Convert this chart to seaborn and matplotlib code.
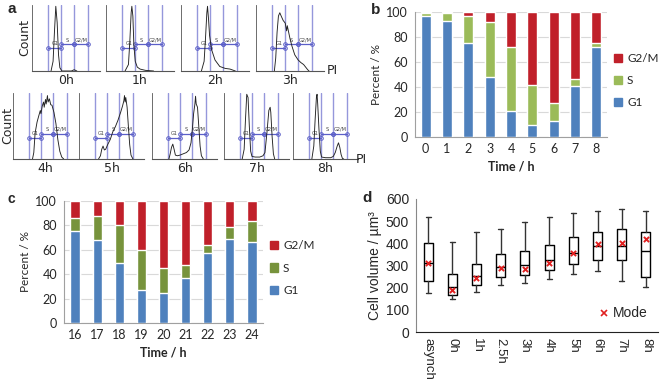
import numpy as np
import pandas as pd
import matplotlib
matplotlib.use("Agg")
import matplotlib.pyplot as plt
import seaborn as sns
from matplotlib.patches import Patch
from matplotlib.lines import Line2D

sns.set_style("white")
plt.rcParams['font.family'] = ['DejaVu Sans']

# ---- panel a: PI histograms (channel 0-100, normalised counts) ----
h_labels = ['0h', '1h', '2h', '3h', '4h', '5h', '6h', '7h', '8h']
h0_x = [28, 31, 33, 35, 37, 39, 41, 44, 58, 62, 66]
h0_y = [0, 0.15, 0.6, 1.0, 0.75, 0.25, 0.05, 0, 0, 0.02, 0]
h1_x = [28, 33, 35, 37, 38, 39.5, 41, 43, 46, 50, 58, 70]
h1_y = [0, 0.1, 0.45, 0.9, 1.0, 0.85, 0.4, 0.15, 0.06, 0.03, 0.01, 0]
h2_x = [30, 34, 36, 38, 39, 40.5, 42, 45, 50, 57, 65, 72, 80]
h2_y = [0, 0.15, 0.5, 0.9, 1.0, 0.8, 0.55, 0.33, 0.17, 0.07, 0.04, 0.03, 0]
h3_x = [27, 29, 31, 33, 35, 37, 40, 43, 45, 46, 48, 50, 53, 57, 62, 66, 70, 73, 76, 78]
h3_y = [0, 0.2, 0.6, 0.85, 0.9, 0.85, 0.78, 0.74, 0.62, 0.7, 0.6, 0.5, 0.38, 0.25, 0.17, 0.13, 0.1, 0.06, 0.02, 0]
h4_x = [30, 32, 34, 37, 40, 42, 43, 45, 47, 48, 50, 51, 53, 54, 56, 58, 60, 63, 66, 69, 72, 75, 78]
h4_y = [0, 0.1, 0.4, 0.57, 0.68, 0.75, 0.7, 0.82, 0.88, 0.8, 0.92, 0.85, 0.98, 0.88, 0.93, 0.84, 0.83, 0.72, 0.55, 0.3, 0.12, 0.03, 0]
h5_x = [30, 33, 35, 37, 39, 41, 44, 48, 52, 56, 60, 64, 67, 69, 70, 71, 72, 74, 76, 78, 80, 83]
h5_y = [0, 0.05, 0.15, 0.2, 0.14, 0.15, 0.22, 0.3, 0.42, 0.5, 0.6, 0.72, 0.82, 0.9, 0.98, 0.88, 0.95, 0.8, 0.5, 0.22, 0.06, 0]
h6_x = [26, 28, 30, 32, 34, 36, 39, 43, 48, 53, 57, 60, 62, 64, 66, 67, 68, 70, 72, 74, 76, 79]
h6_y = [0, 0.08, 0.18, 0.23, 0.15, 0.06, 0.05, 0.06, 0.08, 0.1, 0.14, 0.25, 0.45, 0.7, 0.85, 0.97, 0.85, 0.8, 0.5, 0.2, 0.05, 0]
h7_x = [28, 31, 33, 35, 37, 39, 41, 43, 48, 55, 60, 63, 66, 69, 71, 72, 74, 76, 78]
h7_y = [0, 0.15, 0.6, 1.0, 0.95, 0.5, 0.12, 0.04, 0.03, 0.03, 0.05, 0.1, 0.4, 0.75, 0.8, 0.72, 0.35, 0.08, 0]
h8_x = [29, 32, 34, 36, 37, 38, 40, 42, 44, 50, 58, 62, 65, 68, 70, 72, 74, 76, 78]
h8_y = [0, 0.2, 0.6, 0.95, 1.0, 0.85, 0.45, 0.12, 0.03, 0.02, 0.02, 0.04, 0.1, 0.2, 0.25, 0.18, 0.07, 0.01, 0]
hist_x = [h0_x, h1_x, h2_x, h3_x, h4_x, h5_x, h6_x, h7_x, h8_x]
hist_y = [h0_y, h1_y, h2_y, h3_y, h4_y, h5_y, h6_y, h7_y, h8_y]
gate_edges = [24, 43, 62, 83]
gate_names = ['G1', 'S', 'G2/M']

# ---- panel b / c: phase percentages ----
b_times = ['0', '1', '2', '3', '4', '5', '6', '7', '8']
b_g1 = [97, 93, 75, 48, 20.5, 10, 13, 41, 72]
b_s = [2, 6, 21.5, 44, 51.5, 32, 14, 5.5, 3]
b_g2m = [1, 1, 3.5, 8, 28, 58, 73, 53.5, 25]

c_times = ['16', '17', '18', '19', '20', '21', '22', '23', '24']
c_g1 = [75.5, 68, 49, 27, 24.5, 36.5, 57.5, 69, 66]
c_s = [10.5, 20, 31.5, 32.5, 20.5, 11, 6.5, 10, 18]
c_g2m = [14, 12, 19.5, 40.5, 55, 52.5, 36, 21, 16]

# ---- panel d: cell volume box stats ----
d_groups = ['asynch', '0h', '1h', '2.5h', '3h', '4h', '5h', '6h', '7h', '8h']
d_low = [177, 147, 181, 211, 222, 237, 260, 276, 231, 204]
d_q1 = [231, 169, 211, 249, 255, 279, 305, 323, 323, 249]
d_med = [313, 201, 251, 295, 301, 323, 355, 390, 390, 364]
d_q3 = [400, 260, 305, 352, 367, 391, 427, 449, 465, 449]
d_high = [518, 408, 449, 465, 494, 518, 539, 548, 557, 548]
d_mode = [310, 189, 242, 287, 284, 310, 355, 396, 403, 420]

BLUE = '#4F81BD'
RED = '#C0202A'
GREEN_B = '#9BBB59'
GREEN_C = '#77933C'
GATE = '#8A8CD8'

W, H = 660, 379
fig = plt.figure(figsize=(6.6, 3.79), dpi=100)


def px_axes(x0, y0, x1, y1):
    return fig.add_axes([x0 / W, 1 - y1 / H, (x1 - x0) / W, (y1 - y0) / H])


# ---------------- panel a ----------------
top_left = [32, 106, 181, 256]
bot_left = [13, 79, 152, 224, 293]
boxes = [(x, 5, x + 68, 71) for x in top_left] + [(x, 93, x + 65, 159) for x in bot_left]
for i, (x0, y0, x1, y1) in enumerate(boxes):
    ax = px_axes(x0, y0, x1, y1)
    ax.set_xlim(0, 100)
    ax.set_ylim(0, 1.02)
    for e in gate_edges:
        ax.axvline(e, color=GATE, lw=1.0, alpha=0.9, zorder=1)
    g1y = 0.35 if i < 4 else 0.33
    sy = 0.41 if i < 4 else 0.39
    ys = [g1y, sy, sy]
    for k in range(3):
        ax.plot([gate_edges[k], gate_edges[k + 1]], [ys[k], ys[k]], color='#5B5FC8', lw=0.9,
                marker='o', ms=2.6, mfc='none', mec='#5B5FC8', mew=0.7, zorder=2)
        ax.text((gate_edges[k] + gate_edges[k + 1]) / 2, ys[k] + 0.03, gate_names[k],
                fontsize=3.6, color='#444444', ha='center', va='bottom', zorder=3)
    sns.lineplot(x=hist_x[i], y=hist_y[i], ax=ax, color='#222222', lw=0.65, zorder=4,
                 estimator=None, sort=False)
    for s in ['top', 'right']:
        ax.spines[s].set_visible(False)
    ax.spines['left'].set_color('#555555')
    ax.spines['bottom'].set_color('#555555')
    ax.spines['left'].set_linewidth(0.6)
    ax.spines['bottom'].set_linewidth(0.8)
    ax.set_yticks(np.arange(0, 1.01, 0.04))
    ax.set_xticks(np.arange(0, 101, 9))
    ax.tick_params(axis='y', length=1.2, width=0.5, color='#555555', labelleft=False, direction='out')
    ax.tick_params(axis='x', length=1.5, width=0.5, color='#555555', labelbottom=False, direction='out')
    ax.set_xlabel('')
    ax.set_ylabel('')
    fig.text((x0 + x1) / 2 / W, 1 - (y1 + 10) / H, h_labels[i], ha='center', va='center', fontsize=9)

fig.text(25 / W, 1 - 38 / H, 'Count', rotation=90, ha='center', va='center', fontsize=9)
fig.text(8 / W, 1 - 126 / H, 'Count', rotation=90, ha='center', va='center', fontsize=9)
fig.text(327 / W, 1 - 71 / H, 'PI', ha='left', va='center', fontsize=9)
fig.text(356 / W, 1 - 160 / H, 'PI', ha='left', va='center', fontsize=9)


# ---------------- panels b and c ----------------
def stacked(ax, times, g1, s, g2m, green, width):
    df = pd.DataFrame({'t': times, 'g1': g1, 's': s, 'g2m': g2m})
    df['top'] = df['g1'] + df['s'] + df['g2m']
    df['mid'] = df['g1'] + df['s']
    sns.barplot(data=df, x='t', y='top', color=RED, saturation=1, width=width, ax=ax, zorder=2)
    sns.barplot(data=df, x='t', y='mid', color=green, saturation=1, width=width, ax=ax, zorder=3)
    sns.barplot(data=df, x='t', y='g1', color=BLUE, saturation=1, width=width, ax=ax, zorder=4)
    ax.set_ylim(0, 100)
    ax.set_xlim(-0.5, len(times) - 0.5)
    ax.set_yticks(range(0, 101, 20))
    ax.yaxis.grid(True, color='#D9D9D9', lw=0.8, zorder=0)
    ax.set_axisbelow(True)
    ax.set_xticks(np.arange(-0.5, len(times), 1))
    ax.set_xticklabels([])
    ax.set_xticks(np.arange(len(times)), minor=True)
    ax.set_xticklabels(times, minor=True, fontsize=9, family='Lato')
    ax.tick_params(axis='x', which='major', length=3, width=0.8, color='#A0A0A0', direction='out')
    ax.tick_params(axis='x', which='minor', length=0, pad=4)
    ax.tick_params(axis='y', length=3, width=0.8, color='#A0A0A0', labelsize=9, pad=2)
    for lab in ax.get_yticklabels():
        lab.set_family('Lato')
    for sp in ['top', 'right']:
        ax.spines[sp].set_visible(False)
    for sp in ['left', 'bottom']:
        ax.spines[sp].set_color('#A0A0A0')
        ax.spines[sp].set_linewidth(0.8)
    ax.set_xlabel('Time / h', fontsize=9, fontweight='bold', family='Lato', labelpad=4)
    ax.set_ylabel('Percent / %', fontsize=8.5, family='Lato', labelpad=3)
    handles = [Patch(color=RED), Patch(color=green), Patch(color=BLUE)]
    ax.legend(handles, ['G2/M', 'S', 'G1'], loc='center left', bbox_to_anchor=(1.0, 0.45),
              frameon=False, handlelength=0.7, handleheight=0.7, handletextpad=0.4,
              labelspacing=0.95, borderaxespad=0.2, prop={'family': 'Lato', 'size': 8.5})


ax_b = px_axes(415, 12, 607, 137)
stacked(ax_b, b_times, b_g1, b_s, b_g2m, GREEN_B, 0.48)
ax_c = px_axes(64, 201, 263, 323)
stacked(ax_c, c_times, c_g1, c_s, c_g2m, GREEN_C, 0.42)

# ---------------- panel d ----------------
ax_d = px_axes(416, 199, 658, 332)
stats = []
for i, g in enumerate(d_groups):
    stats.append({'label': g, 'whislo': d_low[i], 'q1': d_q1[i], 'med': d_med[i],
                  'q3': d_q3[i], 'whishi': d_high[i], 'fliers': []})
pos = np.arange(len(d_groups))
ax_d.bxp(stats, positions=pos, widths=0.38, showfliers=False,
         boxprops=dict(color='black', lw=1.0),
         medianprops=dict(color='black', lw=1.0),
         whiskerprops=dict(color='#333333', lw=1.0),
         capprops=dict(color='#333333', lw=1.0), capwidths=0.2)
sns.scatterplot(x=pos, y=d_mode, ax=ax_d, marker='x', color='#E02020', s=14, linewidth=1.4, zorder=5)
ax_d.set_xlim(-0.5, len(d_groups) - 0.5)
ax_d.set_ylim(0, 600)
ax_d.set_yticks(range(0, 601, 100))
ax_d.set_yticks(range(0, 601, 20), minor=True)
ax_d.set_xticks(np.arange(-0.5, len(d_groups), 1))
ax_d.set_xticklabels([])
ax_d.set_xticks(pos, minor=True)
ax_d.set_xticklabels(d_groups, minor=True, rotation=270, fontsize=9.5, family='Liberation Sans', va='top')
ax_d.tick_params(axis='x', which='major', length=5, width=0.8, direction='out')
ax_d.tick_params(axis='x', which='minor', length=0, pad=4)
ax_d.tick_params(axis='y', which='major', length=3, width=0.8, labelsize=10, pad=2)
ax_d.tick_params(axis='y', which='minor', length=1.5, width=0.5, color='#777777')
for lab in ax_d.get_yticklabels():
    lab.set_family('Liberation Sans')
for sp in ['top', 'right']:
    ax_d.spines[sp].set_visible(False)
ax_d.spines['left'].set_color('#888888')
ax_d.spines['bottom'].set_color('#222222')
ax_d.set_ylabel('Cell volume / \u00b5m\u00b3', fontsize=10, family='Liberation Sans', labelpad=3)
ax_d.set_xlabel('')
mode_h = Line2D([], [], marker='x', color='#E02020', lw=0, ms=4, mew=1.2)
ax_d.legend([mode_h], ['Mode'], loc='center left', bbox_to_anchor=(0.71, 0.14), frameon=False,
            handlelength=0.6, handletextpad=0.3, prop={'family': 'Liberation Sans', 'size': 10})

# panel letters
fig.text(8 / W, 1 - 9 / H, 'a', fontsize=11, fontweight='bold', family='Liberation Sans', va='center')
fig.text(371 / W, 1 - 10 / H, 'b', fontsize=11, fontweight='bold', family='Liberation Sans', va='center')
fig.text(7 / W, 1 - 199 / H, 'c', fontsize=10, fontweight='bold', family='Liberation Sans', va='center')
fig.text(362 / W, 1 - 198 / H, 'd', fontsize=11, fontweight='bold', family='Liberation Sans', va='center')

fig.savefig('out.png', dpi=100)
